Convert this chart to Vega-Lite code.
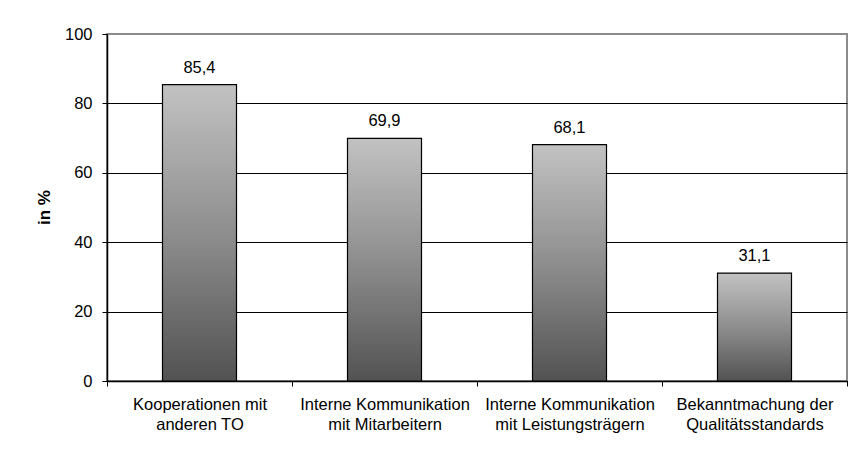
{
  "$schema": "https://vega.github.io/schema/vega-lite/v6.json",
  "autosize": "none",
  "width": 740,
  "height": 347,
  "padding": {"left": 107, "top": 34, "right": 13, "bottom": 91},
  "background": "white",
  "data": {
    "values": [
      {"kategorie": "Kooperationen mit|anderen TO", "wert": 85.4},
      {"kategorie": "Interne Kommunikation|mit Mitarbeitern", "wert": 69.9},
      {"kategorie": "Interne Kommunikation|mit Leistungsträgern", "wert": 68.1},
      {"kategorie": "Bekanntmachung der|Qualitätsstandards", "wert": 31.1}
    ]
  },
  "encoding": {
    "x": {
      "field": "kategorie",
      "type": "nominal",
      "sort": null,
      "scale": {"paddingInner": 0, "paddingOuter": 0},
      "axis": {
        "title": null,
        "labelAngle": 0,
        "labelExpr": "split(datum.label, '|')",
        "labelFont": "Liberation Sans",
        "labelFontSize": 16.5,
        "labelColor": "black",
        "labelLineHeight": 20,
        "labelPadding": 10,
        "tickBand": "extent",
        "tickColor": "black",
        "tickSize": 5,
        "domainColor": "black",
        "domainWidth": 1.5
      }
    },
    "y": {
      "field": "wert",
      "type": "quantitative",
      "scale": {"domain": [0, 100], "nice": false},
      "axis": {
        "title": "in %",
        "titleFont": "Liberation Sans",
        "titleFontSize": 17,
        "titleFontWeight": "bold",
        "titleColor": "black",
        "titleX": -63,
        "titleY": 173,
        "titleAlign": "center",
        "titleBaseline": "middle",
        "values": [0, 20, 40, 60, 80, 100],
        "labelFont": "Liberation Sans",
        "labelFontSize": 16.5,
        "labelColor": "black",
        "labelPadding": 10,
        "tickSize": 5,
        "tickColor": "black",
        "domainColor": "black",
        "domainWidth": 1.5,
        "grid": true,
        "gridColor": {"condition": {"test": "datum.value === 100", "value": "#8c8c8c"}, "value": "black"},
        "gridWidth": 1.2,
        "gridOpacity": 1
      }
    }
  },
  "layer": [
    {
      "mark": {
        "type": "bar",
        "width": {"band": 0.4},
        "stroke": "black",
        "strokeWidth": 1.2,
        "color": {
          "gradient": "linear",
          "x1": 0, "y1": 0, "x2": 0, "y2": 1,
          "stops": [
            {"offset": 0, "color": "#c2c2c2"},
            {"offset": 0.5, "color": "#8e8e8e"},
            {"offset": 1, "color": "#525252"}
          ]
        }
      }
    },
    {
      "mark": {
        "type": "text",
        "font": "Liberation Sans",
        "fontSize": 16.5,
        "color": "black",
        "baseline": "alphabetic",
        "dy": -12
      },
      "encoding": {
        "text": {"field": "wert", "type": "quantitative", "format": ".1f"}
      }
    }
  ],
  "config": {
    "locale": {
      "number": {"decimal": ",", "thousands": ".", "grouping": [3], "currency": ["", " €"]}
    },
    "view": {"stroke": "#8c8c8c", "strokeWidth": 2}
  }
}
